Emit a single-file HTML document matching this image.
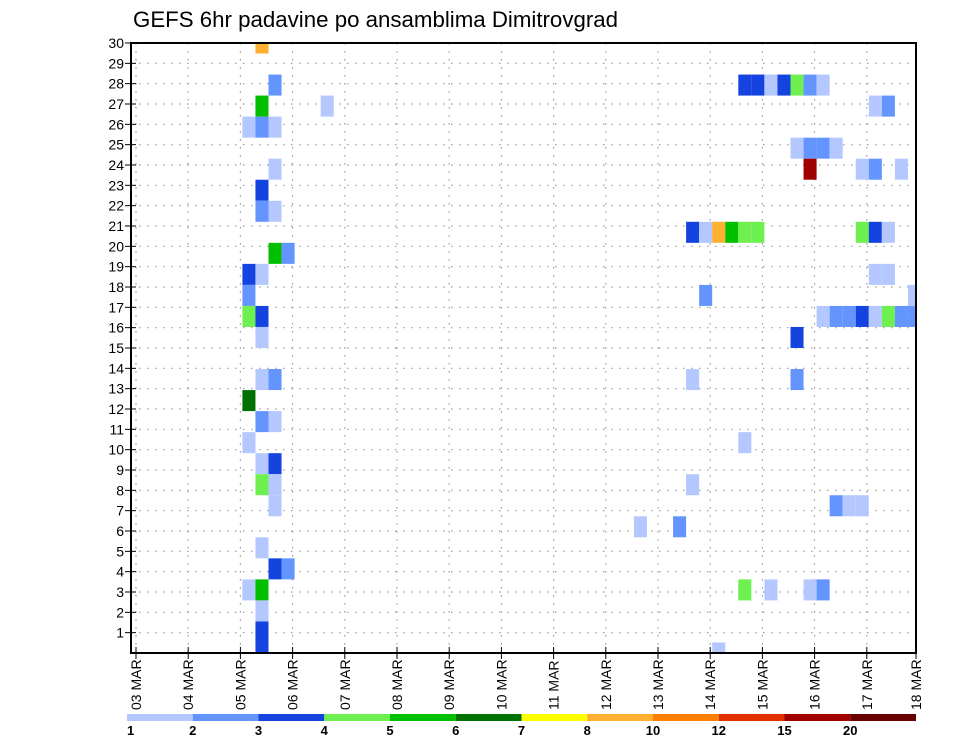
<!DOCTYPE html>
<html><head><meta charset="utf-8"><style>
body{margin:0;background:#fff;}
svg{display:block;font-family:"Liberation Sans",sans-serif;}
</style></head><body>
<svg id="chart" width="960" height="742" viewBox="0 0 960 742" xmlns="http://www.w3.org/2000/svg">
<text x="133" y="27" font-size="22" textLength="485" lengthAdjust="spacingAndGlyphs">GEFS 6hr padavine po ansamblima Dimitrovgrad</text>
<g id="grid"></g><g id="cells"></g><g id="axes"></g><g id="legend"></g>
</svg>
<script>
// data: ensemble member, 6h step index from 03 MAR 00Z, precipitation mm
const members = [
 30, 28, 27,27, 26,26,26, 24, 23, 22,22, 20,20, 19,19, 18, 17,17, 16, 14,14, 13, 12,12, 11, 10,10, 9,9, 8, 6, 5,5, 4,4, 3, 2, 1,
 28,28,28,28,28,28,28,
 27,27,
 25,25,25,25,
 24,24,24,24,
 21,21,21,21,21,21,21,21,21,
 19,19,
 18,18,
 17,17,17,17,17,17,17,17,
 16,
 14,14,
 11,
 9,
 8,8,8,
 7,7,
 4,4,4,4,
 1];
const steps = [
 9, 10, 9,14, 8,9,10, 10, 9, 9,10, 10,11, 8,9, 8, 8,9, 9, 9,10, 8, 9,10, 8, 9,10, 9,10, 10, 9, 10,11, 8,9, 9, 9, 9,
 46,47,48,49,50,51,52,
 56,57,
 50,51,52,53,
 51,55,56,58,
 42,43,44,45,46,47,55,56,57,
 56,57,
 43,59,
 52,53,54,55,56,57,58,59,
 50,
 42,50,
 46,
 42,
 53,54,55,
 38,41,
 46,48,51,52,
 44];
const values = [
 9, 2.5, 5.5,1.5, 1.5,2.5,1.5, 1.5, 3.5, 2.5,1.5, 5.5,2.5, 3.5,1.5, 2.5, 4.5,3.5, 1.5, 1.5,2.5, 6.5, 2.5,1.5, 1.5, 1.5,3.5, 4.5,1.5, 1.5, 1.5, 3.5,2.5, 1.5,5.5, 1.5, 3.5, 3.5,
 3.5,3.5,1.5,3.5,4.5,2.5,1.5,
 1.5,2.5,
 1.5,2.5,2.5,1.5,
 17,1.5,2.5,1.5,
 3.5,1.5,9,5.5,4.5,4.5,4.5,3.5,1.5,
 1.5,1.5,
 2.5,1.5,
 1.5,2.5,2.5,3.5,1.5,4.5,2.5,2.5,
 3.5,
 1.5,2.5,
 1.5,
 1.5,
 2.5,1.5,1.5,
 1.5,2.5,
 4.5,1.5,1.5,2.5,
 1.5];
const levels = [1,2,3,4,5,6,7,8,10,12,15,20];
const levelLabels = ["1","2","3","4","5","6","7","8","10","12","15","20"];
const colors = ["#b4c8ff","#6495ff","#1443e0","#6ef050","#00c000","#007000","#ffff00","#ffb030","#ff7f00","#e03000","#a00000","#6a0000"];
const dayLabels = ["03","04","05","06","07","08","09","10","11","12","13","14","15","16","17","18"];
const yLabels = [1,2,3,4,5,6,7,8,9,10,11,12,13,14,15,16,17,18,19,20,21,22,23,24,25,26,27,28,29,30];

const NS="http://www.w3.org/2000/svg";
const L=131,R=916,T=43,B=653;
const xDay=d=>136+d*52.2;
const xStep=k=>xDay(k/4)+2;
const cellW=52.2/4;
const yMem=m=>B-(m-1)*(B-T)/29;
const cellH=(B-T)/29;
const yLab=v=>B-v*(B-T)/30;
function mk(tag,attrs,parent){const e=document.createElementNS(NS,tag);for(const k in attrs)e.setAttribute(k,attrs[k]);parent.appendChild(e);return e;}
function colorFor(v){let c=0;for(let i=0;i<levels.length;i++)if(v>=levels[i])c=i;return colors[c];}

const grid=document.getElementById('grid');
yLabels.forEach(v=>{const y=yLab(v);const l=mk('line',{x1:L,x2:R,y1:y,y2:y,stroke:'#999','stroke-dasharray':'1.5,6.5','stroke-width':1.2},grid);

});
dayLabels.forEach((d,i)=>{const x=xDay(i);if(x>R)return;const l=mk('line',{x1:x,x2:x,y1:T,y2:B,stroke:'#999','stroke-dasharray':'1.5,6.5','stroke-width':1.2},grid);

});

const cells=document.getElementById('cells');
const defs=mk('defs',{},cells);const cp=mk('clipPath',{id:'clip'},defs);mk('rect',{x:L,y:T,width:R-L,height:B-T},cp);
const cg=mk('g',{'clip-path':'url(#clip)'},cells);
members.forEach((m,i)=>{const y=yMem(m)-cellH/2;
 const r=mk('rect',{x:xStep(steps[i]),y:y,width:cellW,height:cellH,fill:colorFor(values[i])},cg);
 
 });

const ax=document.getElementById('axes');
const fr=mk('rect',{x:L,y:T,width:R-L,height:B-T,fill:'none',stroke:'#000','stroke-width':2},ax);


yLabels.forEach(v=>{const y=yLab(v);mk('line',{x1:L-6,x2:L+5,y1:y,y2:y,stroke:'#000','stroke-width':1},ax);
 const t=mk('text',{x:L-7,y:y+5,'font-size':14,'text-anchor':'end'},ax);t.textContent=v;
 
 });
dayLabels.forEach((d,i)=>{let x=xDay(i);if(x>R)x=R;mk('line',{x1:x,x2:x,y1:B-6,y2:B+6,stroke:'#000','stroke-width':1},ax);
 const t=mk('text',{transform:`translate(${x+5},710) rotate(-90)`,'font-size':14},ax);t.textContent=d+' MAR';
 
 });

const lg=document.getElementById('legend');
const lx0=127,lw=(916-127)/12;
colors.forEach((c,i)=>{const r=mk('rect',{x:lx0+i*lw,y:714,width:lw,height:7,fill:c},lg);
 
 
 const t=mk('text',{x:lx0+i*lw,y:735,'font-size':13,'font-weight':'bold','text-anchor':i===0?'start':'middle'},lg);t.textContent=levelLabels[i];
 
 });
</script>
</body></html>
